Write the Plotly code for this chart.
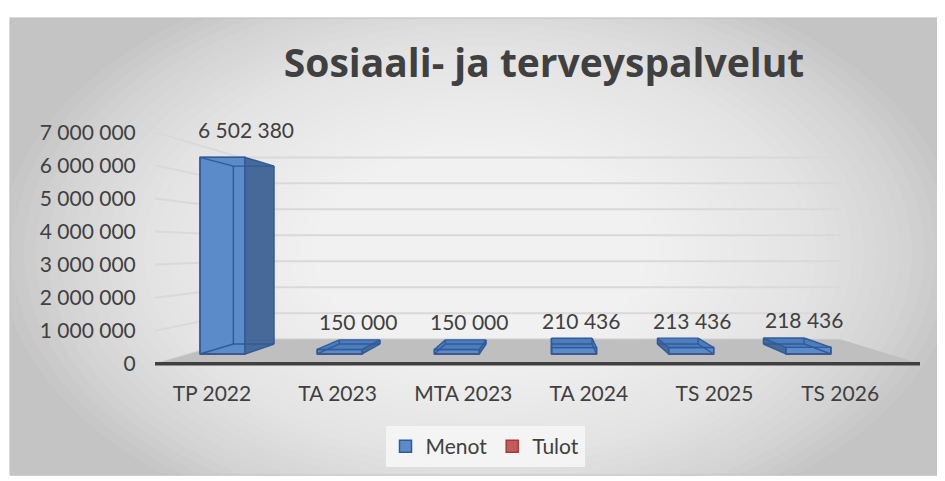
import plotly.graph_objects as go

# ---------------- data ----------------
CATEGORIES = ["TP 2022", "TA 2023", "MTA 2023", "TA 2024", "TS 2025", "TS 2026"]
MENOT = [6502380, 150000, 150000, 210436, 213436, 218436]
TULOT = [0, 0, 0, 0, 0, 0]
SERIES_NAMES = ["Menot", "Tulot"]
Y_TICKS = [0, 1000000, 2000000, 3000000, 4000000, 5000000, 6000000, 7000000]
TITLE = "Sosiaali- ja terveyspalvelut"

# ---------------- geometry (window pixel layout of the front / label plane) ----------------
W, H = 945, 481
OFF = 8                               # page body margin
PX_C0, PX_DC = 191.7, 128.2          # px of category 0, px per category
PX_V0, PX_PER_V = 363.0, 33.571e-6   # px of value 0, px per unit value
X_PX = (150, 925)
Y_PX = (373, 120)


def pxx(px):
    return (px - OFF) / W


def pxy(py):
    return 1 - (py - OFF) / H


def c_of_px(px):
    return (px - PX_C0) / PX_DC


def v_of_py(py):
    return (PX_V0 - py) / PX_PER_V


XR = [c_of_px(X_PX[0]), c_of_px(X_PX[1])]
YR = [v_of_py(Y_PX[0]), v_of_py(Y_PX[1])]
X_DOM = [pxx(X_PX[0]), pxx(X_PX[1])]
Y_DOM = [pxy(Y_PX[0]), pxy(Y_PX[1])]

# perspective: vanishing point and depth scale factors
CV, VV = c_of_px(550), v_of_py(246.7)
S_WALL, S_FRONT, S_BACK = 0.785, 0.914, 0.827
BAR_W = 0.384
FLOOR_C = (c_of_px(155), c_of_px(920))
# category label axis offset
LBL_OFF, LBL_SCALE = 0.158, 0.98


def proj(c, v, s):
    return (CV + s * (c - CV), VV + s * (v - VV))


FONT = "Lato"
FS = 21
TXT = "#404040"

shapes = []
# ---------- background gradient (paper) ----------
FRAME = (10, 12, 938, 476)
shapes.append(dict(type="rect", xref="paper", yref="paper", layer="below",
                   x0=pxx(FRAME[0]), x1=pxx(FRAME[2]), y0=pxy(FRAME[3]), y1=pxy(FRAME[1]),
                   fillcolor="#c4c4c4", line=dict(width=0)))
N_RING = 40
CX, CY, RX, RY = 480, 250, 480, 300
for k in range(N_RING, 0, -1):
    f = k / N_RING
    shapes.append(dict(type="circle", xref="paper", yref="paper", layer="below",
                       x0=pxx(CX - RX * f), x1=pxx(CX + RX * f),
                       y0=pxy(CY + RY * f), y1=pxy(CY - RY * f),
                       fillcolor="white", opacity=0.068, line=dict(width=0)))
# white outside the frame
for (a, b, c2, d) in [(-20, -20, W + 20, FRAME[1]), (-20, FRAME[3], W + 20, H + 20),
                      (-20, -20, FRAME[0], H + 20), (FRAME[2], -20, W + 20, H + 20)]:
    shapes.append(dict(type="rect", xref="paper", yref="paper", layer="below",
                       x0=pxx(a), x1=pxx(c2), y0=pxy(d), y1=pxy(b),
                       fillcolor="white", line=dict(width=0)))
shapes.append(dict(type="rect", xref="paper", yref="paper", layer="below",
                   x0=pxx(FRAME[0]), x1=pxx(FRAME[2]), y0=pxy(FRAME[3]), y1=pxy(FRAME[1]),
                   fillcolor="rgba(0,0,0,0)", line=dict(color="#bdbdbd", width=1)))

# ---------- walls: gridlines ----------
GRID = "#d9d9d9"
for v in Y_TICKS:
    x0, y0 = proj(FLOOR_C[0], v, 1.0)
    x1, y1 = proj(FLOOR_C[0], v, S_WALL)
    x2, y2 = proj(FLOOR_C[1], v, S_WALL)
    shapes.append(dict(type="line", xref="x", yref="y", layer="below",
                       x0=x0, y0=y0, x1=x1, y1=y1, line=dict(color=GRID, width=2)))
    shapes.append(dict(type="line", xref="x", yref="y", layer="below",
                       x0=x1, y0=y1, x1=x2, y1=y2, line=dict(color=GRID, width=2)))

# ---------- floor ----------
fl = [proj(FLOOR_C[0], 0, 1.0), proj(FLOOR_C[1], 0, 1.0),
      proj(FLOOR_C[1], 0, S_WALL), proj(FLOOR_C[0], 0, S_WALL)]
path = "M " + " L ".join(f"{p[0]},{p[1]}" for p in fl) + " Z"
shapes.append(dict(type="path", xref="x", yref="y", layer="below", path=path,
                   fillcolor="#bfbfbf", line=dict(width=0)))
shapes.append(dict(type="line", xref="x", yref="y", layer="below",
                   x0=fl[0][0], y0=fl[0][1], x1=fl[1][0], y1=fl[1][1],
                   line=dict(color="#3f3f3f", width=3.5)))

# ---------- bars ----------
FRONT_COL, SIDE_COL, TOP_COL, EDGE_COL = "#5c8bca", "#46699a", "#4d7dbd", "#2f5b9a"
hw = BAR_W / 2
front_x, front_w, front_base, front_h = [], [], [], []
side_x, side_y, top_x, top_y, edge_x, edge_y = [], [], [], [], [], []
for i, v in enumerate(MENOT):
    c = i
    fx, fb = proj(c, 0, S_FRONT)
    front_x.append(fx)
    front_w.append(S_FRONT * BAR_W)
    front_base.append(fb)
    front_h.append(S_FRONT * v)
    FLb, FRb = proj(c - hw, 0, S_FRONT), proj(c + hw, 0, S_FRONT)
    FLt, FRt = proj(c - hw, v, S_FRONT), proj(c + hw, v, S_FRONT)
    BLb, BRb = proj(c - hw, 0, S_BACK), proj(c + hw, 0, S_BACK)
    BLt, BRt = proj(c - hw, v, S_BACK), proj(c + hw, v, S_BACK)
    if c + hw < CV:
        poly = [FRb, FRt, BRt, BRb]
    else:
        poly = [FLb, FLt, BLt, BLb]
    for p in poly + [poly[0]]:
        side_x.append(p[0]); side_y.append(p[1])
    side_x.append(None); side_y.append(None)
    if v < VV:
        for p in [FLt, FRt, BRt, BLt, FLt]:
            top_x.append(p[0]); top_y.append(p[1])
        top_x.append(None); top_y.append(None)
    for a, b in [(BLb, BRb), (BRb, BRt), (BRt, BLt), (BLt, BLb),
                 (FLb, BLb), (FRb, BRb), (FRt, BRt), (FLt, BLt),
                 (FLb, FRb), (FRb, FRt), (FRt, FLt), (FLt, FLb)]:
        edge_x += [a[0], b[0], None]
        edge_y += [a[1], b[1], None]

fig = go.Figure()
fig.add_trace(go.Bar(x=front_x, y=front_h, base=front_base, width=front_w,
                     name=SERIES_NAMES[0],
                     marker=dict(color=FRONT_COL, line=dict(color=EDGE_COL, width=1.5)),
                     hoverinfo="skip"))
fig.add_trace(go.Bar(x=front_x, y=TULOT, base=front_base, width=front_w,
                     name=SERIES_NAMES[1],
                     marker=dict(color="#c55a5a", line=dict(color="#a33b3b", width=1.5)),
                     hoverinfo="skip"))
fig.add_trace(go.Scatter(x=side_x, y=side_y, mode="lines", fill="toself",
                         fillcolor=SIDE_COL, line=dict(width=0), showlegend=False,
                         hoverinfo="skip"))
fig.add_trace(go.Scatter(x=top_x, y=top_y, mode="lines", fill="toself",
                         fillcolor=TOP_COL, line=dict(width=0), showlegend=False,
                         hoverinfo="skip"))
fig.add_trace(go.Scatter(x=edge_x, y=edge_y, mode="lines",
                         line=dict(color=EDGE_COL, width=1.4), showlegend=False,
                         hoverinfo="skip"))
# dummy trace to register the category axis
fig.add_trace(go.Scatter(x=list(range(len(CATEGORIES))), y=[0] * len(CATEGORIES),
                         xaxis="x2", yaxis="y", mode="markers",
                         marker=dict(opacity=0), showlegend=False, hoverinfo="skip"))

# ---------- data labels ----------
annotations = []
S_MID = (S_FRONT + S_BACK) / 2
for i, v in enumerate(MENOT):
    lx, _ = proj(i, v, S_MID)
    _, ly = proj(i, v, S_FRONT)
    annotations.append(dict(x=lx, y=ly, xref="x", yref="y", showarrow=False,
                            text=f"{v:,}".replace(",", " "), xanchor="center",
                            yanchor="bottom", xshift=8, yshift=13,
                            font=dict(family=FONT, size=FS, color=TXT)))

fig.update_layout(
    width=W, height=H, margin=dict(l=0, r=0, t=0, b=0), autosize=False,
    paper_bgcolor="white", plot_bgcolor="rgba(0,0,0,0)",
    separators=", ",
    barmode="overlay",
    shapes=shapes, annotations=annotations,
    title=dict(text=TITLE, x=pxx(544), y=pxy(58), xanchor="center", yanchor="middle",
               xref="paper", yref="paper",
               font=dict(family="Open Sans", size=39, color=TXT, weight=700)),
    xaxis=dict(domain=X_DOM, range=XR, showgrid=False, zeroline=False,
               showline=False, showticklabels=False, ticks=""),
    xaxis2=dict(domain=X_DOM, overlaying="x", anchor="y", side="bottom",
                range=[(XR[0] - LBL_OFF) / LBL_SCALE, (XR[1] - LBL_OFF) / LBL_SCALE],
                tickvals=list(range(len(CATEGORIES))), ticktext=CATEGORIES,
                showgrid=False, zeroline=False, showline=False,
                ticks="outside", ticklen=1, tickcolor="rgba(0,0,0,0)",
                tickfont=dict(family=FONT, size=FS, color=TXT)),
    yaxis=dict(domain=Y_DOM, range=YR, tickvals=Y_TICKS, tickformat=",d",
               showgrid=False, zeroline=False, showline=False,
               ticks="outside", ticklen=9, tickcolor="rgba(0,0,0,0)",
               tickfont=dict(family=FONT, size=FS, color=TXT)),
    legend=dict(orientation="h", x=pxx(485), xanchor="center", y=pxy(447),
                yanchor="middle", bgcolor="#f4f4f4",
                font=dict(family=FONT, size=FS, color=TXT), itemwidth=30),
    showlegend=True,
)

fig.write_html("out.html")
